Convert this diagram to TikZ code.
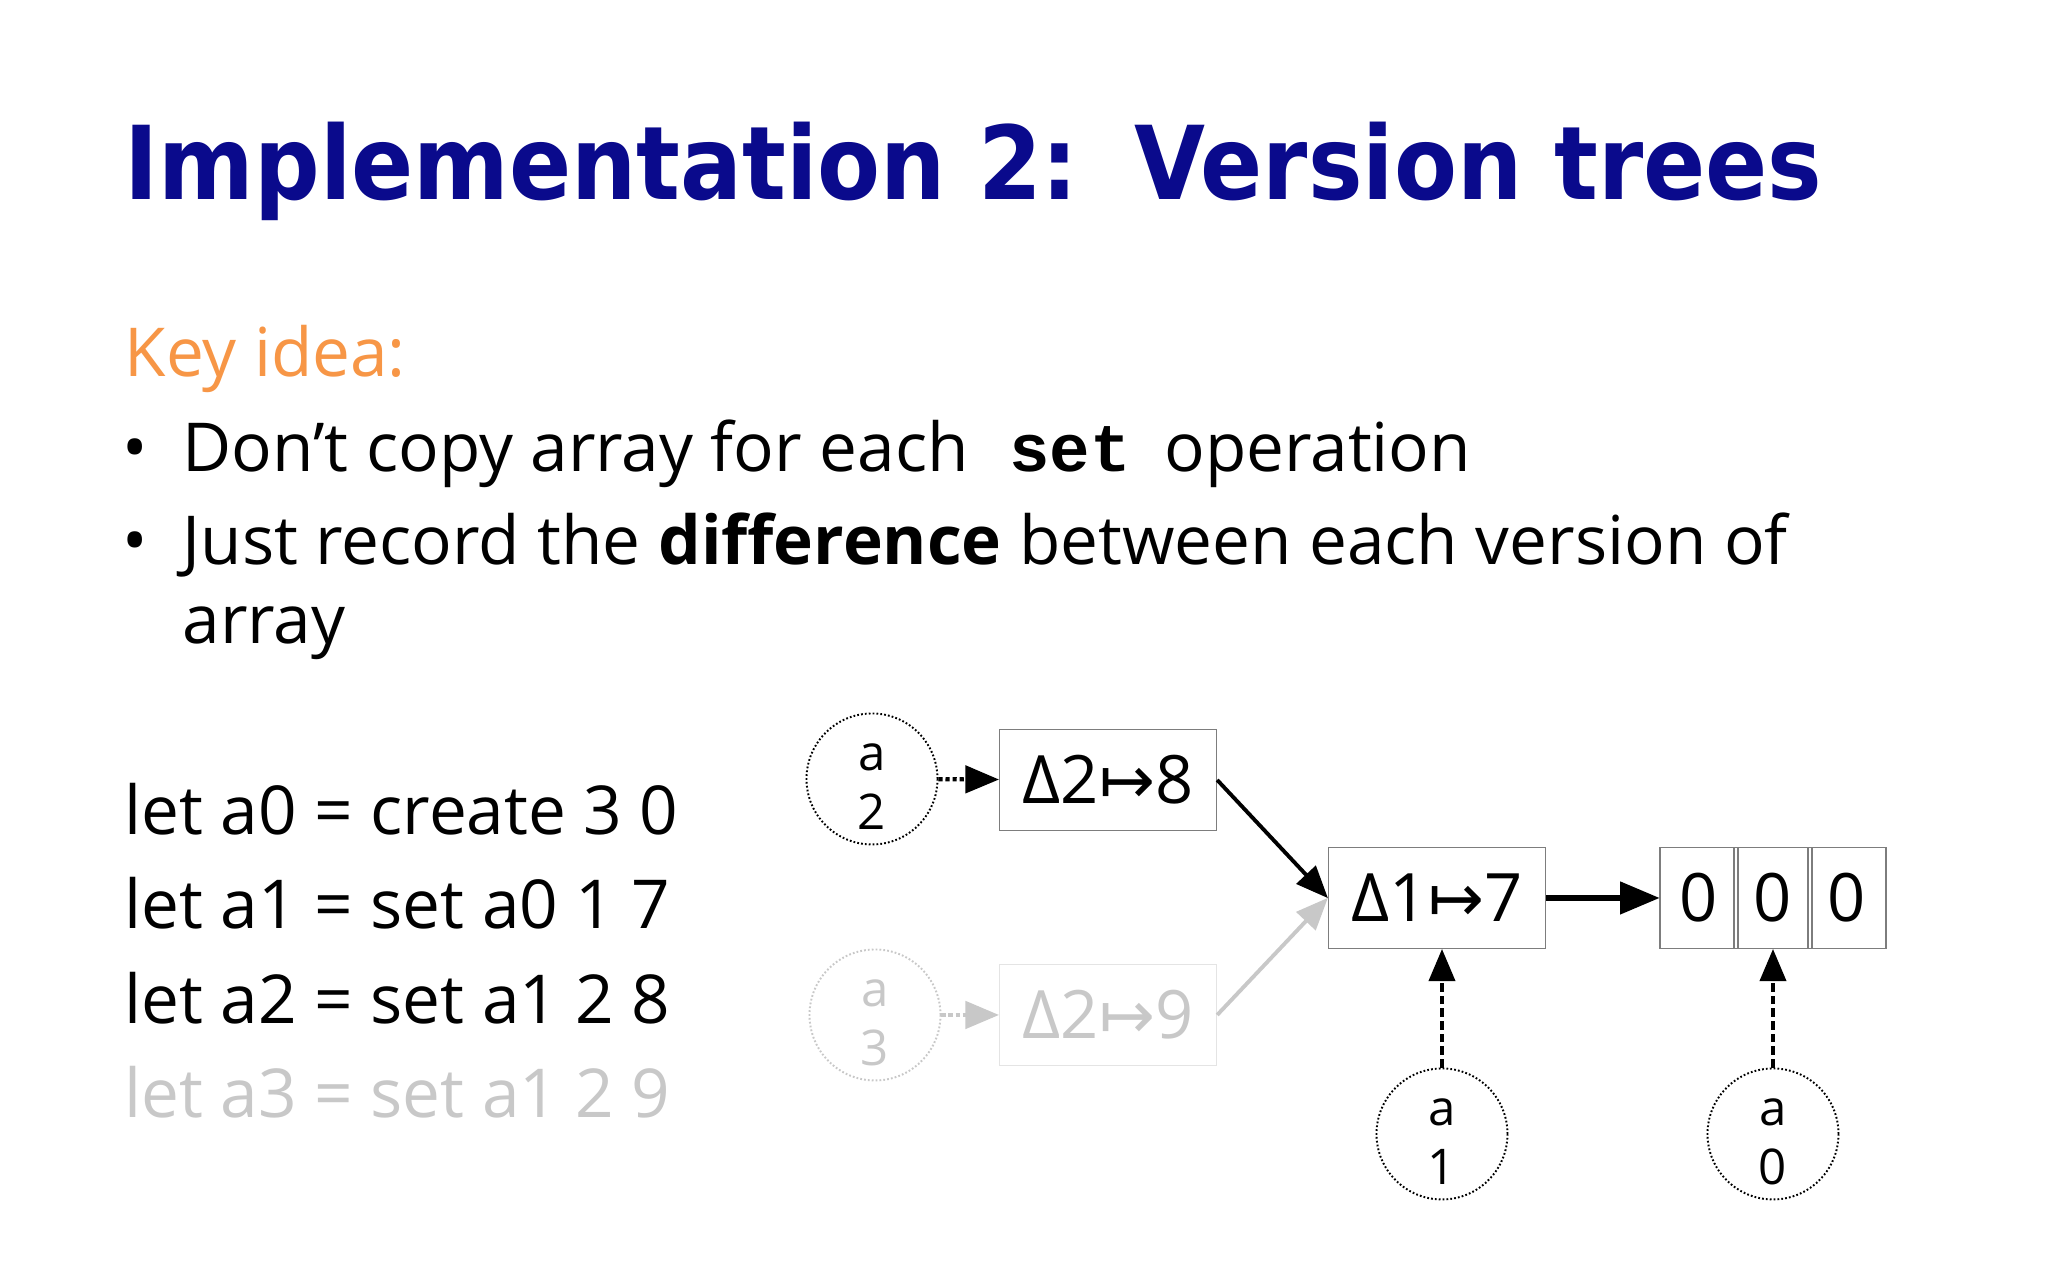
\documentclass[tikz,border=0pt]{standalone}
\usepackage{fontspec}
\setmainfont{Open Sans}
\setmonofont{Liberation Mono}
\newfontfamily\headfont{DejaVu Sans}[FakeStretch=0.9]
\newfontfamily\arrfont{DejaVu Sans}
\usetikzlibrary{arrows,positioning}

\definecolor{headblue}{RGB}{10,10,140}
\definecolor{keyorange}{RGB}{247,150,70}
\definecolor{faded}{RGB}{200,200,200}
\definecolor{edgegray}{RGB}{125,125,125}

\newcommand{\mapsarrow}{{\arrfont ↦}}

\tikzset{
  txt/.style={inner sep=0pt, anchor=base west, font=\fontsize{19.2}{23}\selectfont},
  diffbox/.style={draw=edgegray, line width=0.4pt, minimum width=2.17cm, minimum height=1.01cm, inner sep=0pt, font=\fontsize{19}{22}\selectfont},
  cellbox/.style={diffbox, minimum width=0.78cm},
  vername/.style={circle, draw, dash pattern=on 0.5pt off 0.6pt, line width=0.55pt, minimum size=1.31cm, inner sep=0pt},
  verlbl/.style={inner sep=0pt, align=center, font=\fontsize{14}{16.8}\selectfont},
  dotptr/.style={-triangle 45, line width=1.2pt, dash pattern=on 1.2pt off 0.8pt},
  dashptr/.style={-triangle 45, line width=1.1pt, dash pattern=on 2.4pt off 1.2pt},
  link/.style={-triangle 45, line width=1.1pt},
  faded/.style={draw=faded, text=faded}
}

\begin{document}
\begin{tikzpicture}
\fill[white] (0,0) rectangle (20.48,12.8);
\useasboundingbox (0,0) rectangle (20.48,12.8);

% slide text
\node[txt, text=headblue, font=\headfont\bfseries\fontsize{29}{34}\selectfont] (title) at (1.24,10.80) {Implementation 2:\hskip0.55em Version trees};
\node[txt, text=keyorange] (key) at (1.24,9.03) {Key idea:};
\node[inner sep=0pt, font=\fontsize{19.2}{23}\selectfont] (dot1) at (1.35,8.25) {•};
\node[txt] (pt1) at (1.82,8.08) {Don’t copy array for each{\ttfamily\bfseries\ set}\hskip0.5em operation};
\node[inner sep=0pt, font=\fontsize{19.2}{23}\selectfont] (dot2) at (1.35,7.32) {•};
\node[txt] (pt2) at (1.82,7.15) {Just record the \textbf{difference} between each version of};
\node[txt] (pt2b) at (1.82,6.36) {array};

% program
\node[txt] (let0) at (1.24,4.45) {let a0 = create 3 0};
\node[txt] (let1) at (1.24,3.51) {let a1 = set a0 1 7};
\node[txt] (let2) at (1.24,2.56) {let a2 = set a1 2 8};
\node[txt, text=faded] (let3) at (1.24,1.62) {let a3 = set a1 2 9};

% version tree
\node[diffbox] (d17) at (14.37,3.82) {Δ1\mapsarrow7};
\node[diffbox] (d28) at (11.08,5.00) {Δ2\mapsarrow8};
\node[diffbox, faded, draw=faded!50] (d29) at (11.08,2.65) {Δ2\mapsarrow9};
\node[cellbox] (c0) at (16.99,3.82) {0};
\node[cellbox] (c1) at (17.73,3.82) {0};
\node[cellbox] (c2) at (18.47,3.82) {0};

\node[vername] (a2) at (8.72,5.01) {};
\node[vername, faded] (a3) at (8.75,2.65) {};
\node[vername] (a1) at (14.42,1.46) {};
\node[vername] (a0) at (17.73,1.46) {};
\node[verlbl] (a2lbl) at ([yshift=-0.08cm]a2) {a\\2};
\node[verlbl, text=faded] (a3lbl) at ([yshift=-0.08cm]a3) {a\\3};
\node[verlbl] (a1lbl) at ([yshift=-0.08cm]a1) {a\\1};
\node[verlbl] (a0lbl) at ([yshift=-0.08cm]a0) {a\\0};

\draw[link, faded] (d29.east) -- (d17.west);
\draw[link] (d28.east) -- (d17.west);
\draw[link, line width=1.6pt] (d17) -- (c0);
\draw[dotptr] (a2) -- (d28);
\draw[dotptr, faded] (a3) -- (d29);
\draw[dashptr] (a1.north) -- (a1.north |- d17.south);
\draw[dashptr] (a0) -- (c1);
\end{tikzpicture}
\end{document}
